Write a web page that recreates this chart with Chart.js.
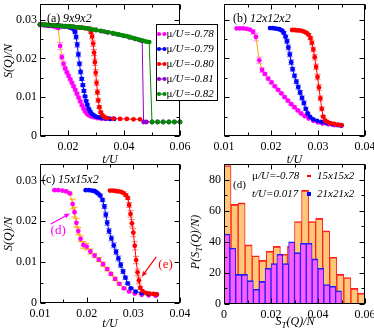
<!DOCTYPE html>
<html>
<head>
<meta charset="utf-8">
<script src="https://cdn.jsdelivr.net/npm/chart.js@4.4.0/dist/chart.umd.min.js"></script>
<style>
  html, body { margin: 0; padding: 0; background: #fff; overflow: hidden; }
  body { width: 374px; height: 332px; position: relative; }
  canvas { position: absolute; }
</style>
</head>
<body>
<canvas id="pb" width="190" height="170" style="left:200px;top:0px"></canvas>
<canvas id="pa" width="230" height="170" style="left:0px;top:0px"></canvas>
<canvas id="pc" width="190" height="172" style="left:0px;top:160px"></canvas>
<canvas id="pd" width="205" height="172" style="left:185px;top:160px"></canvas>
<script>
// ---- data: [t/U, S(Q)/N, error] ----
// panel (a) 9x9x2
const a78 = [[0.0100,0.0286,0],[0.0105,0.0286,0],[0.0110,0.0286,0],[0.0115,0.0285,0],[0.0120,0.0285,0],[0.0125,0.0285,0],[0.0130,0.0284,0],[0.0135,0.0284,0],[0.0140,0.0284,0],[0.0145,0.0283,0],[0.0150,0.0283,0],[0.0155,0.0282,0],[0.0160,0.0281,0],[0.0165,0.0278,0.0003],
  [0.0172,0.0232,0.0009],[0.0178,0.0203,0.0007],[0.0184,0.0186,0.0005],[0.0190,0.0174,0.0004],[0.0196,0.0164,0.0004],[0.0202,0.0155,0.0004],[0.0208,0.0146,0.0004],[0.0214,0.0137,0.0003],[0.0220,0.0128,0.0003],[0.0226,0.0119,0.0003],[0.0232,0.0109,0.0003],[0.0238,0.0099,0.0003],[0.0244,0.0089,0.0003],[0.0250,0.0079,0.0003],[0.0256,0.0070,0.0002],[0.0262,0.0063,0.0002],[0.0268,0.0057,0.0002],[0.0275,0.0053,0.0002],[0.0283,0.0050,0],[0.0293,0.0048,0],[0.0305,0.0046,0],[0.0318,0.0045,0],[0.0333,0.0044,0],[0.0350,0.0044,0]];
const a79 = [[0.0100,0.0287,0],[0.0110,0.0286,0],[0.0120,0.0286,0],[0.0130,0.0285,0],[0.0140,0.0285,0],[0.0150,0.0284,0],[0.0160,0.0284,0],[0.0170,0.0283,0],[0.0180,0.0283,0],[0.0190,0.0282,0],[0.0200,0.0281,0],[0.0205,0.0280,0],[0.0210,0.0279,0],[0.0215,0.0278,0],[0.0220,0.0275,0.0002],[0.0225,0.0268,0.0003],
  [0.0229,0.0255,0.0005],[0.0233,0.0235,0.0006],[0.0237,0.0210,0.0006],[0.0241,0.0186,0.0005],[0.0245,0.0165,0.0005],[0.0249,0.0147,0.0004],[0.0253,0.0131,0.0004],[0.0257,0.0116,0.0004],[0.0261,0.0102,0.0003],[0.0265,0.0090,0.0003],[0.0269,0.0080,0.0003],[0.0274,0.0070,0.0002],[0.0279,0.0063,0.0002],[0.0285,0.0057,0],[0.0292,0.0053,0],[0.0300,0.0050,0],[0.0310,0.0048,0],[0.0322,0.0046,0],[0.0336,0.0045,0],[0.0350,0.0044,0],[0.0365,0.0044,0]];
const a80 = [[0.0100,0.0287,0],[0.0110,0.0287,0],[0.0120,0.0286,0],[0.0130,0.0286,0],[0.0140,0.0285,0],[0.0150,0.0285,0],[0.0160,0.0284,0],[0.0170,0.0284,0],[0.0180,0.0283,0],[0.0190,0.0283,0],[0.0200,0.0282,0],[0.0210,0.0282,0],[0.0220,0.0281,0],[0.0230,0.0280,0],[0.0240,0.0279,0],[0.0250,0.0279,0],[0.0260,0.0278,0],[0.0270,0.0277,0],[0.0277,0.0275,0.0002],
  [0.0282,0.0268,0.0004],[0.0286,0.0256,0.0006],[0.0290,0.0238,0.0007],[0.0293,0.0215,0.0008],[0.0296,0.0190,0.0008],[0.0299,0.0163,0.0008],[0.0302,0.0137,0.0007],[0.0305,0.0113,0.0006],[0.0308,0.0092,0.0005],[0.0312,0.0074,0.0004],[0.0317,0.0061,0.0003],[0.0323,0.0053,0.0002],[0.0330,0.0049,0],[0.0340,0.0046,0],[0.0362,0.0045,0],[0.0386,0.0044,0],[0.0410,0.0044,0],[0.0434,0.0043,0],[0.0457,0.0043,0]];
const a81 = [[0.0100,0.0287,0],[0.0120,0.0286,0],[0.0140,0.0285,0],[0.0160,0.0284,0],[0.0180,0.0283,0],[0.0200,0.0282,0],[0.0220,0.0281,0],[0.0240,0.0280,0],[0.0260,0.0278,0],[0.0280,0.0276,0],[0.0300,0.0273,0],[0.0320,0.0270,0],[0.0340,0.0267,0],[0.0360,0.0264,0],[0.0380,0.0261,0],[0.0400,0.0258,0],[0.0420,0.0254,0],[0.0440,0.0250,0],[0.0455,0.0247,0],[0.0465,0.0245,0],
  [0.0470,0.0036,0],[0.0480,0.0036,0],[0.0500,0.0036,0],[0.0520,0.0036,0],[0.0540,0.0036,0],[0.0560,0.0036,0],[0.0580,0.0036,0],[0.0600,0.0036,0]];
const a82 = [[0.0100,0.0287,0],[0.0110,0.0287,0],[0.0120,0.0286,0],[0.0130,0.0286,0],[0.0140,0.0285,0],[0.0150,0.0285,0],[0.0160,0.0284,0],[0.0170,0.0284,0],[0.0180,0.0283,0],[0.0190,0.0283,0],[0.0200,0.0282,0],[0.0210,0.0282,0],[0.0220,0.0281,0],[0.0230,0.0280,0],[0.0240,0.0280,0],[0.0250,0.0279,0],[0.0260,0.0278,0],[0.0270,0.0277,0],[0.0280,0.0275,0],[0.0290,0.0274,0],[0.0300,0.0273,0],[0.0315,0.0271,0],[0.0330,0.0269,0],[0.0345,0.0267,0],[0.0360,0.0265,0],[0.0370,0.0263,0],[0.0380,0.0262,0],[0.0390,0.0260,0],[0.0400,0.0258,0],[0.0410,0.0257,0],[0.0420,0.0255,0],[0.0430,0.0253,0],[0.0440,0.0251,0],[0.0450,0.0249,0],[0.0460,0.0247,0],[0.0470,0.0245,0],[0.0480,0.0243,0],[0.0490,0.0242,0],
  [0.0500,0.0036,0],[0.0520,0.0036,0],[0.0540,0.0036,0],[0.0560,0.0036,0],[0.0580,0.0036,0],[0.0600,0.0036,0]];

// panel (b) 12x12x2
const b78 = [[0.0127,0.0277,0],[0.0134,0.0277,0],[0.0141,0.0277,0],[0.0148,0.0276,0],[0.0155,0.0274,0.0002],[0.0162,0.0268,0.0006],[0.0168,0.0255,0.0010],
  [0.0175,0.0195,0.0008],[0.0181,0.0170,0.0006],[0.0187,0.0160,0.0004],[0.0194,0.0148,0.0004],[0.0201,0.0138,0.0004],[0.0208,0.0128,0.0003],[0.0215,0.0119,0.0003],[0.0222,0.0110,0.0003],[0.0229,0.0100,0.0003],[0.0236,0.0091,0.0003],[0.0243,0.0082,0.0003],[0.0250,0.0074,0.0003],[0.0257,0.0066,0.0002],[0.0264,0.0058,0.0002],[0.0272,0.0051,0.0002],[0.0280,0.0045,0],[0.0290,0.0039,0],[0.0300,0.0035,0],[0.0310,0.0032,0],[0.0322,0.0030,0],[0.0335,0.0028,0],[0.0348,0.0027,0]];
const b79 = [[0.0198,0.0278,0],[0.0203,0.0278,0],[0.0208,0.0277,0],[0.0213,0.0276,0],[0.0218,0.0275,0],[0.0223,0.0272,0.0002],[0.0227,0.0266,0.0003],[0.0231,0.0256,0.0004],[0.0234,0.0244,0.0005],[0.0237,0.0228,0.0006],[0.0240,0.0210,0.0006],[0.0243,0.0190,0.0006],[0.0246,0.0172,0.0005],[0.0250,0.0155,0.0005],[0.0254,0.0140,0.0005],[0.0258,0.0126,0.0005],[0.0262,0.0112,0.0005],[0.0266,0.0098,0.0005],[0.0270,0.0085,0.0005],[0.0274,0.0070,0.0004],[0.0278,0.0058,0.0003],[0.0283,0.0049,0.0002],[0.0290,0.0043,0],[0.0298,0.0039,0],[0.0307,0.0036,0],[0.0318,0.0033,0],[0.0330,0.0030,0],[0.0342,0.0028,0],[0.0350,0.0027,0]];
const b80 = [[0.0245,0.0273,0],[0.0250,0.0273,0],[0.0255,0.0272,0],[0.0260,0.0272,0],[0.0265,0.0271,0],[0.0270,0.0269,0],[0.0275,0.0266,0.0002],[0.0280,0.0261,0.0003],[0.0284,0.0252,0.0004],[0.0287,0.0240,0.0005],[0.0290,0.0223,0.0006],[0.0293,0.0203,0.0007],[0.0296,0.0178,0.0007],[0.0299,0.0152,0.0007],[0.0302,0.0125,0.0007],[0.0305,0.0097,0.0006],[0.0308,0.0070,0.0005],[0.0311,0.0050,0.0003],[0.0315,0.0040,0],[0.0320,0.0036,0],[0.0327,0.0033,0],[0.0335,0.0031,0],[0.0343,0.0029,0],[0.0350,0.0028,0]];

// panel (c) 15x15x2
const c78 = [[0.0131,0.0276,0],[0.0139,0.0276,0],[0.0148,0.0275,0],[0.0156,0.0273,0.0002],[0.0164,0.0268,0.0003],[0.0170,0.0242,0.0012],[0.0174,0.0222,0.0012],[0.0178,0.0196,0.0010],[0.0182,0.0176,0.0008],[0.0187,0.0157,0.0007],[0.0193,0.0142,0.0008],[0.0200,0.0138,0.0008],[0.0208,0.0126,0.0006],[0.0217,0.0116,0.0005],[0.0226,0.0106,0.0005],[0.0235,0.0095,0.0005],[0.0244,0.0083,0.0004],[0.0252,0.0071,0.0004],[0.0261,0.0059,0.0004],[0.0270,0.0047,0.0003],[0.0280,0.0036,0.0003],[0.0291,0.0028,0],[0.0303,0.0023,0],[0.0318,0.0020,0],[0.0333,0.0019,0],[0.0348,0.0018,0]];
const c79 = [[0.0198,0.0276,0],[0.0205,0.0276,0],[0.0211,0.0275,0],[0.0216,0.0274,0],[0.0220,0.0272,0],[0.0224,0.0268,0.0002],[0.0229,0.0263,0.0003],[0.0234,0.0252,0.0004],[0.0238,0.0236,0.0005],[0.0241,0.0216,0.0006],[0.0244,0.0196,0.0006],[0.0248,0.0176,0.0006],[0.0253,0.0158,0.0006],[0.0258,0.0141,0.0006],[0.0263,0.0125,0.0006],[0.0268,0.0109,0.0006],[0.0273,0.0093,0.0006],[0.0278,0.0077,0.0005],[0.0283,0.0062,0.0004],[0.0288,0.0048,0.0003],[0.0295,0.0036,0.0002],[0.0305,0.0028,0],[0.0318,0.0024,0],[0.0333,0.0022,0],[0.0350,0.0021,0]];
const c80 = [[0.0250,0.0275,0],[0.0256,0.0275,0],[0.0262,0.0274,0],[0.0268,0.0273,0],[0.0274,0.0272,0],[0.0279,0.0269,0.0002],[0.0284,0.0264,0.0003],[0.0288,0.0257,0.0004],[0.0291,0.0240,0.0006],[0.0294,0.0218,0.0008],[0.0297,0.0195,0.0009],[0.0300,0.0172,0.0010],[0.0303,0.0140,0.0010],[0.0306,0.0105,0.0009],[0.0309,0.0075,0.0008],[0.0312,0.0055,0.0008],[0.0315,0.0037,0.0004],[0.0320,0.0029,0],[0.0327,0.0025,0],[0.0335,0.0023,0],[0.0343,0.0022,0],[0.0350,0.0021,0]];

// panel (d) histograms P(S_T(Q)/N)
const bin15 = 0.003;
const counts15 = [89, 64, 65, 38, 31, 28, 34, 37, 32, 37, 53, 73, 53, 55, 47, 30, 19, 17, 10, 7];
const bin21 = 0.0025;
const counts21 = [45, 36, 19, 19, 15, 9.5, 14.5, 23, 26, 32, 26, 40, 33, 39, 39, 29, 23, 12.5, 11.5, 8.5];

// tick labels
const ticksAx = [0.02, 0.04, 0.06];
const ticksAy = [0, 0.01, 0.02, 0.03];
const ticksBx = [0.01, 0.02, 0.03, 0.04];
const ticksBy = [];
const ticksCx = [0.01, 0.02, 0.03, 0.04];
const ticksCy = [0, 0.01, 0.02, 0.03];
const ticksDx = [0, 0.02, 0.04, 0.06];
const ticksDy = [0, 20, 40, 60, 80];

const muLabels = ['-0.78', '-0.79', '-0.80', '-0.81', '-0.82'];

// ---- drawing ----
const SERIF = "'Liberation Serif', 'Times New Roman', serif";
Chart.defaults.font.family = SERIF;

const C = {
  orange: '#ffa500', magenta: '#ff00ff', blue: '#0000ff', red: '#ff0000',
  violet: '#9400d3', green: '#008b00',
  errMag: '#ff8cff', errBlue: '#7878ff', errRed: '#ff7878'
};

function fontFor(p, size) {
  const st = p[1] || '';
  const s = st.includes('s') ? Math.round(size * 0.72) : size;
  return (st.includes('i') ? 'italic ' : '') + s + 'px ' + SERIF;
}
function drawRich(ctx, parts, x, y, size, align, color) {
  let w = 0;
  parts.forEach(p => { ctx.font = fontFor(p, size); w += ctx.measureText(p[0]).width; });
  let cx = align === 'center' ? x - w / 2 : (align === 'right' ? x - w : x);
  ctx.textBaseline = 'middle';
  ctx.textAlign = 'left';
  ctx.fillStyle = color || '#000';
  parts.forEach(p => {
    ctx.font = fontFor(p, size);
    const dy = (p[1] || '').includes('s') ? size * 0.3 : 0;
    ctx.fillText(p[0], cx, y + dy);
    cx += ctx.measureText(p[0]).width;
  });
}
function steps(min, max, step) {
  const out = [];
  for (let k = Math.ceil(min / step - 1e-6); k * step <= max + 1e-9; k++) out.push(k * step);
  return out;
}
function isMult(v, step) {
  const r = v / step;
  return Math.abs(r - Math.round(r)) < 1e-6;
}

const deco = {};

const decoPlugin = {
  id: 'deco',
  beforeDatasetsDraw(chart) {
    const ctx = chart.ctx;
    ctx.save();
    chart.data.datasets.forEach(ds => {
      if (!ds.errs) return;
      const xs = chart.scales.x, ys = chart.scales.y;
      ctx.strokeStyle = ds.errColor;
      ctx.lineWidth = 1;
      ctx.beginPath();
      ds.data.forEach((p, i) => {
        const e = ds.errs[i];
        if (!e) return;
        const px = xs.getPixelForValue(p.x);
        const y1 = ys.getPixelForValue(p.y - e), y2 = ys.getPixelForValue(p.y + e);
        ctx.moveTo(px, y1); ctx.lineTo(px, y2);
        ctx.moveTo(px - 3, y1); ctx.lineTo(px + 3, y1);
        ctx.moveTo(px - 3, y2); ctx.lineTo(px + 3, y2);
      });
      ctx.stroke();
    });
    ctx.restore();
  },
  afterDraw(chart) {
    const o = deco[chart.canvas.id];
    if (!o) return;
    const ctx = chart.ctx, ca = chart.chartArea;
    const xs = chart.scales.x, ys = chart.scales.y;
    ctx.save();
    const L = Math.round(ca.left) + 0.5, T = Math.round(ca.top) + 0.5;
    const R = Math.round(ca.right) - 0.5, B = Math.round(ca.bottom) - 0.5;
    ctx.strokeStyle = '#000';
    ctx.lineWidth = 1;
    ctx.strokeRect(L, T, R - L, B - T);
    ctx.beginPath();
    steps(xs.min, xs.max, o.xMinor).forEach(v => {
      const len = isMult(v, o.xMajor) ? 5 : 3;
      const px = Math.round(xs.getPixelForValue(v)) + 0.5;
      ctx.moveTo(px, B); ctx.lineTo(px, B - len);
      ctx.moveTo(px, T); ctx.lineTo(px, T + len);
    });
    steps(ys.min, ys.max, o.yMinor).forEach(v => {
      const len = isMult(v, o.yMajor) ? 5 : 3;
      const py = Math.round(ys.getPixelForValue(v)) + 0.5;
      ctx.moveTo(L, py); ctx.lineTo(L + len, py);
      ctx.moveTo(R, py); ctx.lineTo(R - len, py);
    });
    ctx.stroke();

    // y tick labels drawn here for panels that ask for it
    if (o.yLabels) {
      ctx.font = '12px ' + SERIF;
      ctx.fillStyle = '#000';
      ctx.textAlign = 'right';
      ctx.textBaseline = 'middle';
      o.yLabels.forEach(v => ctx.fillText(String(v), ca.left - 3, ys.getPixelForValue(v)));
    }

    // arrows in data coordinates
    (o.arrows || []).forEach(a => {
      const x1 = xs.getPixelForValue(a.from[0]), y1 = ys.getPixelForValue(a.from[1]);
      const x2 = xs.getPixelForValue(a.to[0]), y2 = ys.getPixelForValue(a.to[1]);
      const ang = Math.atan2(y2 - y1, x2 - x1);
      ctx.strokeStyle = a.color; ctx.fillStyle = a.color; ctx.lineWidth = 1.2;
      ctx.beginPath(); ctx.moveTo(x1, y1);
      ctx.lineTo(x2 - 4 * Math.cos(ang), y2 - 4 * Math.sin(ang)); ctx.stroke();
      ctx.beginPath();
      ctx.moveTo(x2, y2);
      ctx.lineTo(x2 - 6 * Math.cos(ang - 0.4), y2 - 6 * Math.sin(ang - 0.4));
      ctx.lineTo(x2 - 6 * Math.cos(ang + 0.4), y2 - 6 * Math.sin(ang + 0.4));
      ctx.closePath(); ctx.fill();
    });

    // small legend marks
    (o.marks || []).forEach(m => {
      ctx.fillStyle = m.color;
      ctx.fillRect(ca.left + m.dx - m.w / 2, ca.top + m.dy - m.h / 2, m.w, m.h);
    });

    // texts
    (o.texts || []).forEach(t => {
      let x, y;
      if (t.data) { x = xs.getPixelForValue(t.data[0]); y = ys.getPixelForValue(t.data[1]); }
      else { x = ca.left + t.dx; y = ca.top + t.dy; }
      if (t.rot) {
        ctx.save(); ctx.translate(x, y); ctx.rotate(-Math.PI / 2);
        drawRich(ctx, t.parts, 0, 0, t.size || 12, 'center', t.color);
        ctx.restore();
      } else {
        drawRich(ctx, t.parts, x, y, t.size || 12, t.align || 'left', t.color);
      }
    });

    // line legend
    if (o.legend) {
      const g = o.legend;
      const bx = ca.left + g.dx, by = ca.top + g.dy;
      ctx.fillStyle = '#fff';
      ctx.fillRect(bx, by, g.w, g.h);
      ctx.strokeStyle = '#000'; ctx.lineWidth = 1;
      ctx.strokeRect(Math.round(bx) + 0.5, Math.round(by) + 0.5, g.w, g.h);
      chart.data.datasets.forEach((ds, i) => {
        const yy = by + g.first + i * g.row;
        ctx.strokeStyle = ds.borderColor; ctx.lineWidth = 1;
        ctx.beginPath(); ctx.moveTo(bx + 3, yy); ctx.lineTo(bx + 9, yy); ctx.stroke();
        ctx.fillStyle = ds.pointBackgroundColor;
        [bx + 3, bx + 8.5].forEach(cx => { ctx.beginPath(); ctx.arc(cx, yy, 2.1, 0, Math.PI * 2); ctx.fill(); });
        drawRich(ctx, [['\u03bc', ''], ['/U=' + muLabels[i], 'i']], bx + 10.5, yy, 11, 'left', '#000');
      });
    }
    ctx.restore();
  }
};
Chart.register(decoPlugin);

function series(rows, label, line, pt, err, order) {
  return {
    label: label,
    data: rows.map(r => ({ x: r[0], y: r[1] })),
    errs: rows.map(r => r[2]),
    errColor: err,
    showLine: true,
    borderColor: line,
    borderWidth: 1,
    backgroundColor: pt,
    pointBackgroundColor: pt,
    pointBorderWidth: 0,
    pointRadius: 2.4,
    order: order,
    clip: false
  };
}

const fmtS = v => (v === 0 ? '0' : v.toFixed(2));

function axis(min, max, labels, fmt, fit, show) {
  const vertical = fit.w !== undefined;
  return {
    type: 'linear', min: min, max: max, offset: false,
    grid: { display: false, drawTicks: false, offset: false },
    border: { display: false },
    afterBuildTicks: s => { s.ticks = labels.map(v => ({ value: v })); },
    afterFit: s => {
      if (vertical) { s.width = fit.w; s.paddingTop = 0; s.paddingBottom = 0; }
      else { s.height = fit.h; s.paddingLeft = 0; s.paddingRight = 0; }
    },
    ticks: {
      display: show, autoSkip: false, maxRotation: 0, padding: vertical ? 3 : 4,
      color: '#000', font: { family: SERIF, size: 12 },
      callback: v => fmt(v)
    }
  };
}

function lineChart(id, datasets, pad, xa, ya) {
  return new Chart(document.getElementById(id), {
    type: 'scatter',
    data: { datasets: datasets },
    options: {
      responsive: false, animation: false,
      layout: { padding: pad },
      plugins: { legend: { display: false }, tooltip: { enabled: false } },
      elements: { line: { tension: 0 } },
      scales: { x: xa, y: ya }
    }
  });
}

// (a)
deco.pa = {
  xMajor: 0.02, xMinor: 0.01, yMajor: 0.01, yMinor: 0.005,
  texts: [
    { parts: [['(a)', '']], dx: 7, dy: 15 },
    { parts: [['9x9x2', 'i']], dx: 23, dy: 15 },
    { parts: [['S(Q)/N', 'i']], dx: -31, dy: 57, rot: true },
    { parts: [['t/U', 'i']], dx: 70, dy: 156, align: 'center' }
  ],
  legend: { dx: 116, dy: 20, w: 61, h: 76, first: 10, row: 15 }
};
lineChart('pa', [
  series(a78, 'mu/U=-0.78', C.orange, C.magenta, C.errMag, 5),
  series(a79, 'mu/U=-0.79', C.blue, C.blue, C.errBlue, 4),
  series(a80, 'mu/U=-0.80', C.red, C.red, C.errRed, 3),
  series(a81, 'mu/U=-0.81', C.violet, C.violet, C.violet, 2),
  series(a82, 'mu/U=-0.82', C.green, C.green, C.green, 1)
], { left: 0, top: 1, right: 50, bottom: 0 },
  axis(0.01, 0.06, ticksAx, fmtS, { h: 34 }, true),
  axis(0, 0.034, ticksAy, fmtS, { w: 40 }, true));

// (b)
deco.pb = {
  xMajor: 0.01, xMinor: 0.005, yMajor: 0.01, yMinor: 0.005,
  texts: [
    { parts: [['(b)', '']], dx: 9, dy: 15 },
    { parts: [['12x12x2', 'i']], dx: 26, dy: 15 },
    { parts: [['t/U', 'i']], dx: 70.5, dy: 156, align: 'center' }
  ]
};
lineChart('pb', [
  series(b78, '-0.78', C.orange, C.magenta, C.errMag, 3),
  series(b79, '-0.79', C.blue, C.blue, C.errBlue, 2),
  series(b80, '-0.80', C.red, C.red, C.errRed, 1)
], { left: 0, top: 1, right: 25, bottom: 0 },
  axis(0.01, 0.04, ticksBx, fmtS, { h: 34 }, true),
  axis(0, 0.034, ticksBy, fmtS, { w: 24 }, false));

// (c)
deco.pc = {
  xMajor: 0.01, xMinor: 0.005, yMajor: 0.01, yMinor: 0.005,
  texts: [
    { parts: [['(c)', '']], dx: 2, dy: 16 },
    { parts: [['15x15x2', 'i']], dx: 18, dy: 16 },
    { parts: [['S(Q)/N', 'i']], dx: -31, dy: 70, rot: true },
    { parts: [['t/U', 'i']], dx: 70, dy: 160, align: 'center' },
    { parts: [['(d)', '']], data: [0.0139, 0.0176], align: 'center', color: C.magenta, size: 13 },
    { parts: [['(e)', '']], data: [0.0369, 0.0093], align: 'center', color: C.red, size: 13 }
  ],
  arrows: [
    { from: [0.0123, 0.0193], to: [0.0164, 0.0219], color: C.magenta },
    { from: [0.0349, 0.0113], to: [0.0318, 0.0064], color: C.red }
  ]
};
lineChart('pc', [
  series(c78, '-0.78', C.orange, C.magenta, C.orange, 3),
  series(c79, '-0.79', C.blue, C.blue, C.errBlue, 2),
  series(c80, '-0.80', C.red, C.red, C.errRed, 1)
], { left: 0, top: 4, right: 10, bottom: 0 },
  axis(0.01, 0.04, ticksCx, fmtS, { h: 29 }, true),
  axis(0, 0.034, ticksCy, fmtS, { w: 40 }, true));

// (d)
deco.pd = {
  xMajor: 0.02, xMinor: 0.01, yMajor: 20, yMinor: 10,
  yLabels: ticksDy,
  texts: [
    { parts: [['(d)', '']], dx: 9, dy: 21, size: 11 },
    { parts: [['\u03bc', ''], ['/U=-0.78', 'i']], dx: 28, dy: 12, size: 11 },
    { parts: [['t/U=0.017', 'i']], dx: 28, dy: 30, size: 11 },
    { parts: [['15x15x2', 'i']], dx: 93, dy: 12, size: 11 },
    { parts: [['21x21x2', 'i']], dx: 93, dy: 30, size: 11 },
    { parts: [['P(S', 'i'], ['T', 'si'], ['(Q)/N)', 'i']], dx: -28, dy: 78, rot: true },
    { parts: [['S', 'i'], ['T', 'si'], ['(Q)/N', 'i']], dx: 71, dy: 158, align: 'center' }
  ],
  marks: [
    { dx: 85, dy: 12, w: 4, h: 2, color: C.red },
    { dx: 85, dy: 30, w: 4, h: 4, color: C.blue }
  ]
};
new Chart(document.getElementById('pd'), {
  type: 'bar',
  data: {
    datasets: [
      {
        label: '15x15x2',
        data: counts15.map((c, i) => ({ x: (i + 0.5) * bin15, y: c })),
        backgroundColor: '#ffc878', borderColor: '#ff1e1e',
        borderWidth: { top: 1.6, left: 1, right: 1, bottom: 0 },
        grouped: false, categoryPercentage: 1, barPercentage: 1,
        xAxisID: 'x', order: 2
      },
      {
        label: '21x21x2',
        data: counts21.map((c, i) => ({ x: (i + 0.5) * bin21, y: c })),
        backgroundColor: '#ff5cff', borderColor: '#1e1eff',
        borderWidth: { top: 1.6, left: 1, right: 1, bottom: 0 },
        grouped: false, categoryPercentage: 1, barPercentage: 1,
        xAxisID: 'x2', order: 1
      }
    ]
  },
  options: {
    responsive: false, animation: false,
    layout: { padding: { left: 0, top: 4, right: 25, bottom: 0 } },
    plugins: { legend: { display: false }, tooltip: { enabled: false } },
    scales: {
      x: axis(0, 0.06, ticksDx, fmtS, { h: 28 }, true),
      x2: { type: 'linear', min: 0, max: 0.06, offset: false, display: false },
      y: axis(0, 90, ticksDy, v => String(v), { w: 39 }, false)
    }
  }
});
</script>
</body>
</html>
